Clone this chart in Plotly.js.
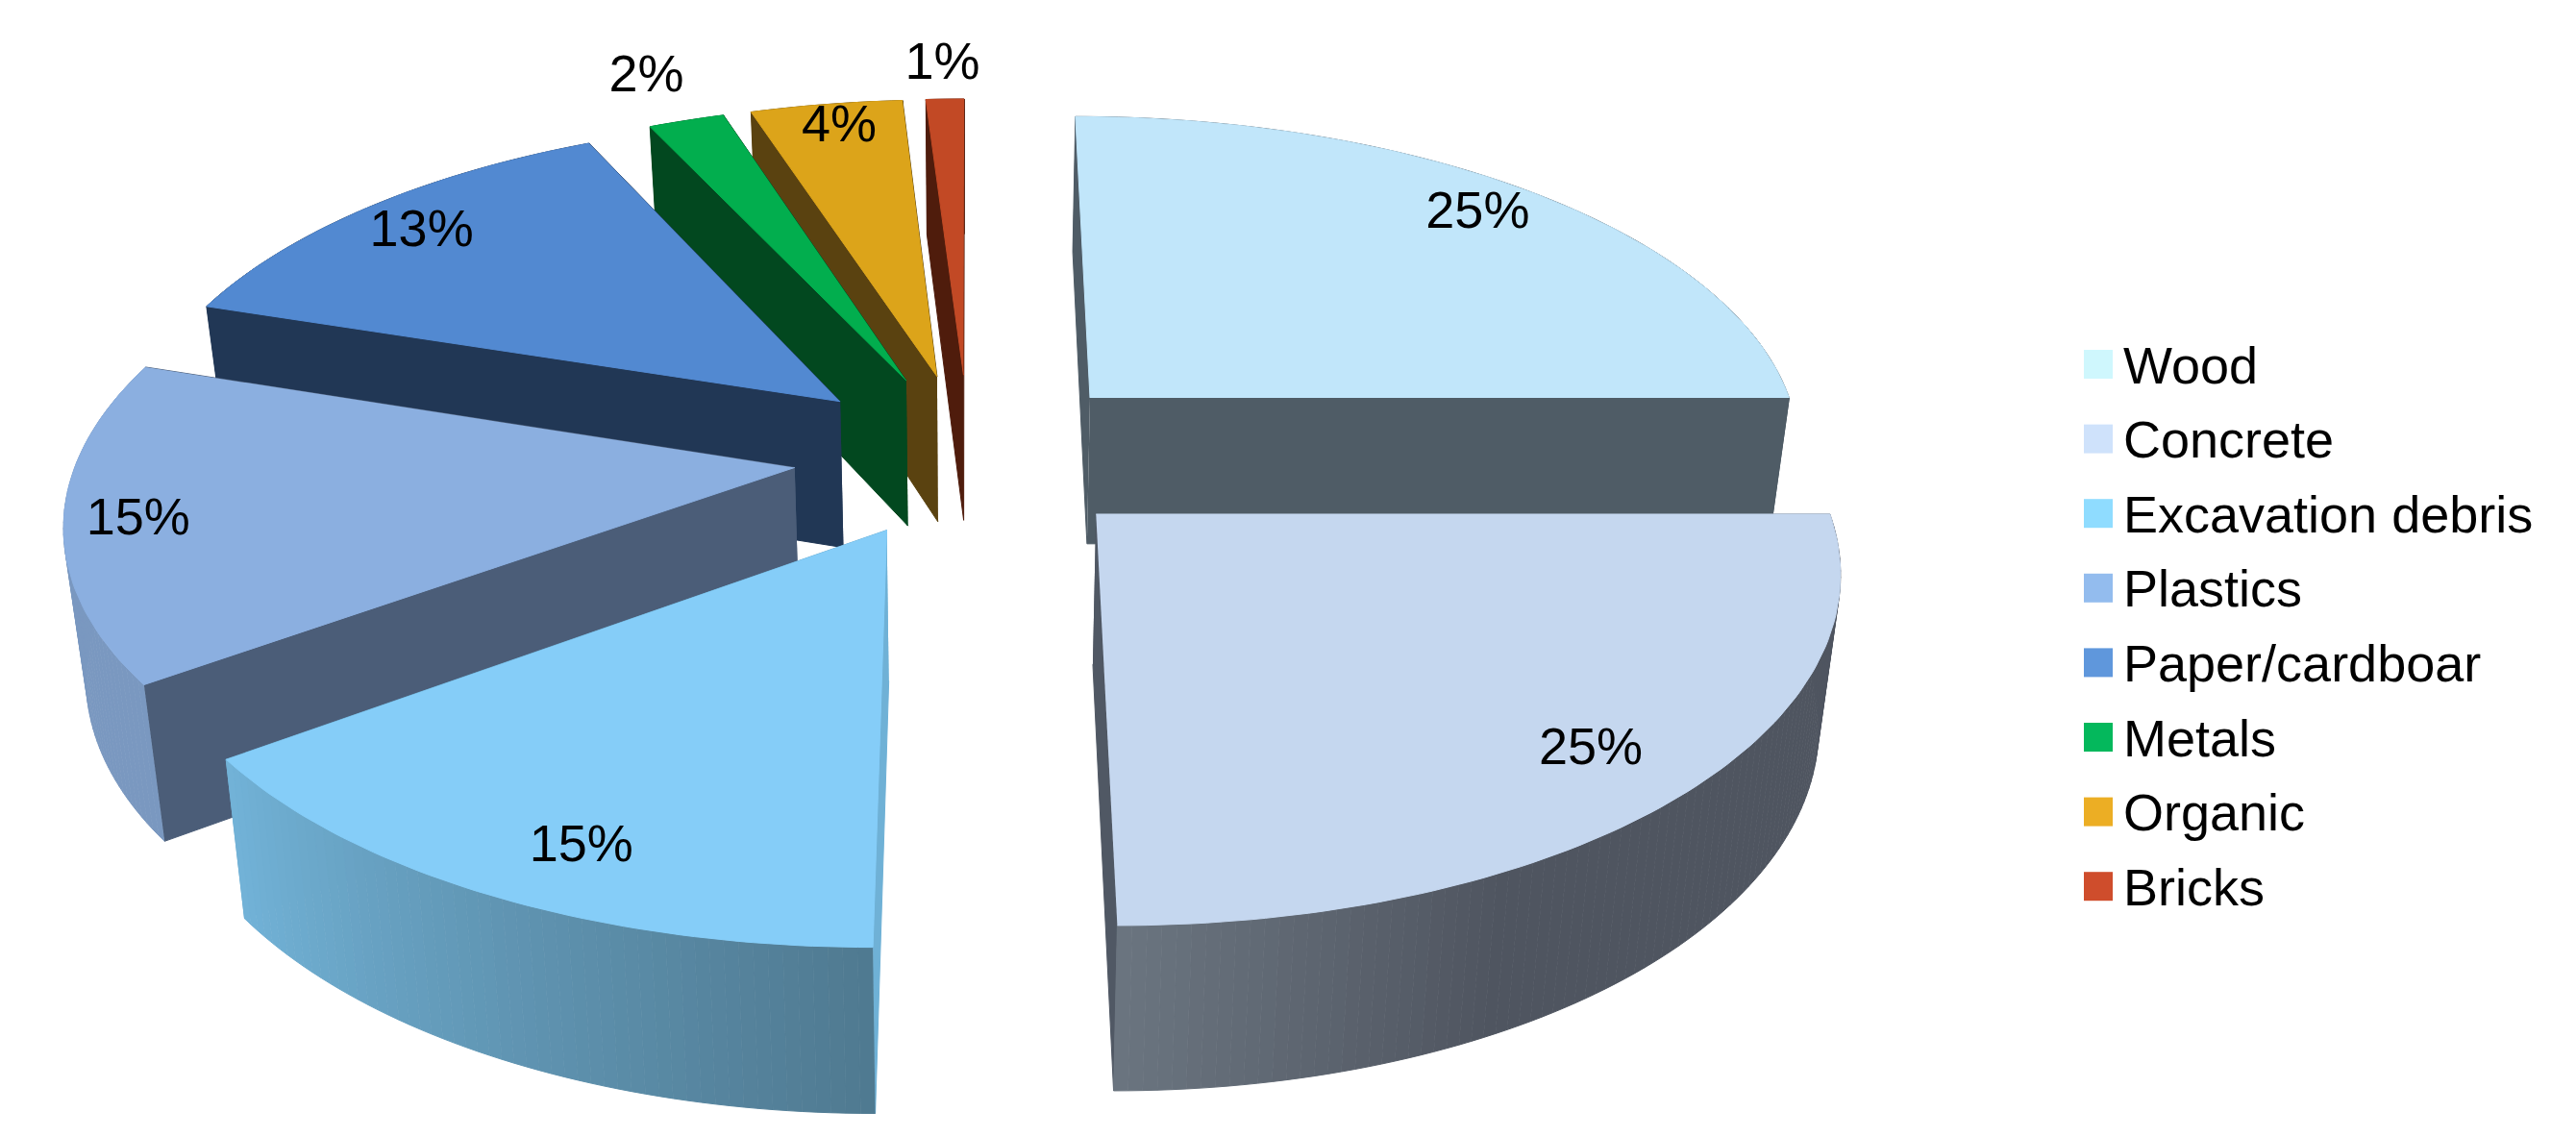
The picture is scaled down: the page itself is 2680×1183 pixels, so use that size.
<!DOCTYPE html>
<html>
<head>
<meta charset="utf-8">
<script src="https://cdn.plot.ly/plotly-3.0.1.min.js"></script>
<style>html,body{margin:0;padding:0;background:#fff}#chart{width:2680px;height:1183px}</style>
</head>
<body>
<div id="chart"></div>
<script>
// tilted, exploded pie: Plotly's pie is always round, so the slices are scatter fills
const categories = ['Wood','Concrete','Excavation debris','Plastics','Paper/cardboar','Metals','Organic','Bricks'];
const shares = [25, 25, 15, 15, 13, 2, 4, 1];

const topColors    = ['#c1e6fa','#c5d7ef','#85cdf8','#8bafe0','#5289d1','#02ae4e','#dca41a','#c24925'];
const legendColors = ['#cff7fd','#cfe2fb','#8fdcff','#93bcee','#5f97dc','#04b85c','#ecae24','#cf4d2c'];
const faceColors   = ['#4f5c66','#505864','#6fb1d6','#4b5d78','#213755','#02481f','#5a4210','#4f1c0c'];
const wallStart    = ['#4f5c66','#4f5560','#4f7990','#7a98c0','#213755','#02481f','#5a4210','#4f1c0c'];
const wallEnd      = ['#4f5c66','#6b7580','#72b3d8','#7a98c0','#213755','#02481f','#5a4210','#4f1c0c'];
// wall shade stays at wallStart for this part of the arc
const wallHold     = [0, 0.7, 0, 0, 0, 0, 0, 0];
const labelRadius  = [0.89, 0.85, 0.855, 0.90, 0.88, 1.21, 0.92, 1.16];
const labelTurn    = [-1, 0, -2.5, 0, 0, 0, 0.5, 0];
// back slices are painted first so the nearer ones cover their walls
const drawOrder    = [7, 6, 5, 4, 3, 2, 0, 1];

// view of the pie, in page pixels
const cx = 1008, cy = 473, radiusX = 745, radiusY = 349;
const pull = 0.245, perspective = 0.14, depth = 154, bottomScale = 0.975;

function project(X, Y, z) {
  const k = 1 / (1 + perspective * Y);
  const s = z ? bottomScale : 1;
  return [cx + radiusX * X * k * s, cy - radiusY * Y * k * s + z * depth * k];
}

function mix(a, b, t) {
  const ca = [1,3,5].map(i => parseInt(a.substr(i,2),16));
  const cb = [1,3,5].map(i => parseInt(b.substr(i,2),16));
  return 'rgb(' + ca.map((v,i) => Math.round(v + (cb[i]-v)*t)).join(',') + ')';
}

function poly(pts, color) {
  return {
    type: 'scatter', mode: 'lines', fill: 'toself', fillcolor: color,
    x: pts.map(p => p[0]), y: pts.map(p => p[1]),
    line: {color: color, width: 1}, hoverinfo: 'skip', showlegend: false
  };
}

const total = shares.reduce((a,b) => a+b, 0);
const startAngle = [];
let cum = 0;
shares.forEach(v => { startAngle.push(cum / total * 2 * Math.PI); cum += v; });

const traces = [];
const labelX = [], labelY = [];

shares.forEach((v, i) => {
  const mid = startAngle[i] + v / total * Math.PI;
  const ox = pull * Math.sin(mid), oy = pull * Math.cos(mid);
  const la = mid + labelTurn[i] * Math.PI / 180;
  const lp = project(ox + labelRadius[i]*Math.sin(la), oy + labelRadius[i]*Math.cos(la), 0);
  labelX.push(lp[0]);
  labelY.push(lp[1] + 5);
});

drawOrder.forEach(i => {
  const a0 = startAngle[i];
  const a1 = a0 + shares[i] / total * 2 * Math.PI;
  const mid = (a0 + a1) / 2;
  const ox = pull * Math.sin(mid), oy = pull * Math.cos(mid);
  const rim = a => [ox + Math.sin(a), oy + Math.cos(a)];
  const n = Math.max(4, Math.round((a1 - a0) * 180 / Math.PI));

  // side walls, furthest first
  const walls = [];
  [a0, a1].forEach(a => {
    const r = rim(a);
    walls.push({
      y: (oy + r[1]) / 2,
      color: faceColors[i],
      pts: [project(ox,oy,0), project(r[0],r[1],0), project(r[0],r[1],1), project(ox,oy,1)]
    });
  });
  for (let s = 0; s < n; s++) {
    const b0 = a0 + (a1-a0) * s / n, b1 = a0 + (a1-a0) * (s+1) / n;
    const r0 = rim(b0), r1 = rim(b1);
    const t = (s + 0.5) / n;
    const hold = wallHold[i];
    const tt = t < hold ? 0 : (t - hold) / (1 - hold);
    walls.push({
      y: (r0[1] + r1[1]) / 2,
      color: mix(wallStart[i], wallEnd[i], tt),
      pts: [project(r0[0],r0[1],0), project(r1[0],r1[1],0), project(r1[0],r1[1],1), project(r0[0],r0[1],1)]
    });
  }
  walls.sort((p,q) => q.y - p.y).forEach(w => traces.push(poly(w.pts, w.color)));

  // top face
  const top = [project(ox,oy,0)];
  for (let s = 0; s <= n; s++) {
    const r = rim(a0 + (a1-a0) * s / n);
    top.push(project(r[0], r[1], 0));
  }
  traces.push(poly(top, topColors[i]));
});

const textFont = {family: 'Liberation Sans, Arial, sans-serif', size: 54, color: '#000'};

// percent labels
traces.push({
  type: 'scatter', mode: 'text', x: labelX, y: labelY,
  text: shares.map(v => v + '%'), textposition: 'middle center',
  textfont: textFont, hoverinfo: 'skip', showlegend: false, cliponaxis: false
});

// legend column
const legendX = 2183, legendTextX = 2209, legendTop = 379, legendStep = 77.6;
traces.push({
  type: 'scatter', mode: 'markers',
  x: categories.map(() => legendX),
  y: categories.map((c,i) => legendTop + i * legendStep),
  marker: {symbol: 'square', size: 30, color: legendColors},
  hoverinfo: 'skip', showlegend: false, cliponaxis: false
});
traces.push({
  type: 'scatter', mode: 'text',
  x: categories.map(() => legendTextX),
  y: categories.map((c,i) => legendTop + 6 + i * legendStep),
  text: categories, textposition: 'middle right',
  textfont: textFont, hoverinfo: 'skip', showlegend: false, cliponaxis: false
});

const layout = {
  width: 2680, height: 1183,
  margin: {t:0, r:0, l:0, b:0},
  paper_bgcolor: '#fff', plot_bgcolor: '#fff',
  showlegend: false,
  xaxis: {range: [0, 2680], visible: false, fixedrange: true},
  yaxis: {range: [1183, 0], visible: false, fixedrange: true}
};

Plotly.newPlot('chart', traces, layout, {displayModeBar: false, staticPlot: true});
</script>
</body>
</html>
